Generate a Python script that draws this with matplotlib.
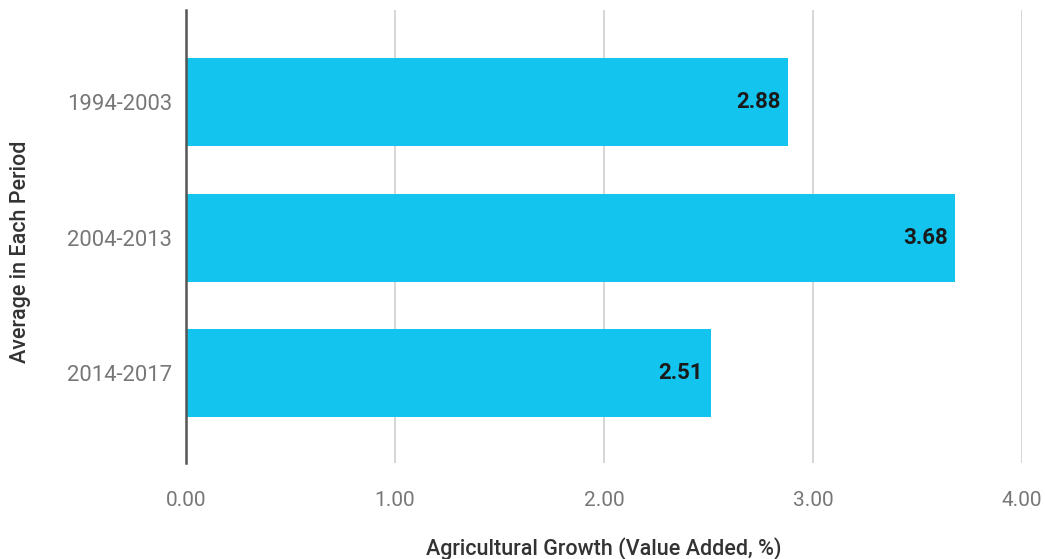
import matplotlib
matplotlib.use("Agg")
import matplotlib.pyplot as plt

periods = ["1994-2003", "2004-2013", "2014-2017"]
values = [2.88, 3.68, 2.51]
xticks = [0, 1, 2, 3, 4]
xtick_labels = ["0.00", "1.00", "2.00", "3.00", "4.00"]

plt.rcParams['font.family'] = ['Roboto', 'DejaVu Sans']

fig = plt.figure(figsize=(10.45, 5.59), dpi=100)
ax = fig.add_axes([0.178, 0.172, 0.8, 0.810])

ypos = list(range(len(periods)))
ax.barh(ypos, values, height=0.65, color="#13c4ef", zorder=2)
for y, v in zip(ypos, values):
    ax.text(v - 0.035, y, f"{v:.2f}", ha="right", va="center", fontsize=16,
            fontweight="bold", color="#1a1a1a", zorder=3)

ax.set_xlim(0, 4)
ax.set_ylim(2.66, -0.68)
ax.set_yticks(ypos)
ax.set_yticklabels(periods)
ax.set_xticks(xticks)
ax.set_xticklabels(xtick_labels)
ax.tick_params(axis="both", length=0, labelcolor="#777777")
ax.tick_params(axis="x", pad=20, labelsize=15)
ax.tick_params(axis="y", pad=10, labelsize=15.8)
ax.grid(axis="x", color="#cccccc", linewidth=1.1, zorder=0)
ax.set_axisbelow(True)
for s in ["top", "right", "bottom"]:
    ax.spines[s].set_visible(False)
ax.spines["left"].set_color("#555555")
ax.spines["left"].set_linewidth(1.8)
ax.spines["left"].set_zorder(4)

fig.text(0.02, 1 - 252 / 559, "Average in Each Period", rotation=90, ha="center",
         va="center", fontsize=15.5, fontweight="medium", color="#333333")
fig.text(604 / 1045, 1 - 549 / 559, "Agricultural Growth (Value Added, %)", ha="center",
         va="center", fontsize=15.5, fontweight="medium", color="#333333")

fig.savefig("out.png", dpi=100)
